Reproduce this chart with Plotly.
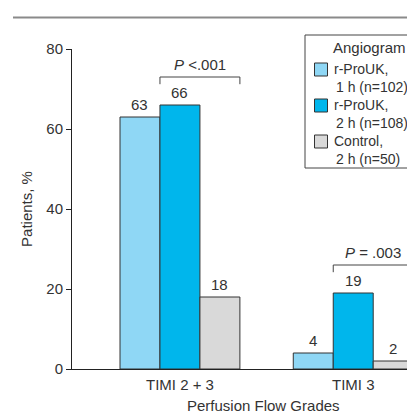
import plotly.graph_objects as go

categories = ["TIMI 2 + 3", "TIMI 3"]
series_line1 = ["r-ProUK,", "r-ProUK,", "Control,"]
series_line2 = ["1 h (n=102)", "2 h (n=108)", "2 h (n=50)"]
series_values = [
    [63, 4],
    [66, 19],
    [18, 2],
]
series_colors = ["#8FD7F5", "#00B6EC", "#D9D9D9"]
legend_title = "Angiogram"
p_labels = ["<i>P</i> <.001", "<i>P</i> = .003"]
y_ticks = [0, 20, 40, 60, 80]

TXT = "#333333"
FONT = "Liberation Sans, Arial, sans-serif"
FS = 15
FSL = 14

# page has an 8px body margin; the figure is sized to fit the window
OFF = 8
W, H = 415 - OFF, 414 - OFF
ML, MR, MT = 72 - OFF, 2, 49 - OFF
MB = H - (369 - OFF)
PW, PH = W - ML - MR, H - MT - MB


def px_x(px):
    return (px - OFF - ML) / PW


def px_y(py):
    return (H - MB - (py - OFF)) / PH


fig = go.Figure()
for i, (vals, col) in enumerate(zip(series_values, series_colors)):
    fig.add_trace(go.Bar(
        x=list(range(len(categories))), y=vals,
        name=series_line1[i] + " " + series_line2[i],
        marker=dict(color=col, line=dict(color="#333333", width=1)),
        showlegend=False,
    ))

bargap = 0.308
nser = len(series_values)
bw = (1 - bargap) / nser

annotations = []
shapes = []
for si, vals in enumerate(series_values):
    off = -(1 - bargap) / 2 + bw * (si + 0.5)
    for ci, v in enumerate(vals):
        annotations.append(dict(x=ci + off, y=v, xref="x", yref="y", text=str(v),
                                showarrow=False, yanchor="bottom", yshift=2,
                                font=dict(size=FS, color=TXT, family=FONT)))

# significance brackets over series 2 and 3
for ci, lab in enumerate(p_labels):
    top = max(series_values[1][ci], series_values[2][ci]) + 7
    x0 = ci - (1 - bargap) / 2 + bw
    x1 = ci + (1 - bargap) / 2
    shapes.append(dict(type="path", xref="x", yref="y",
                       path=f"M {x0},{top-1.8} L {x0},{top} L {x1},{top} L {x1},{top-1.8}",
                       line=dict(color="#444444", width=1)))
    annotations.append(dict(x=(x0 + x1) / 2, y=top, xref="x", yref="y", text=lab,
                            showarrow=False, yanchor="bottom", yshift=2,
                            font=dict(size=FS, color=TXT, family=FONT)))

# top rule
shapes.append(dict(type="line", xref="paper", yref="paper", x0=px_x(13), x1=px_x(416),
                   y0=px_y(17.5), y1=px_y(17.5), line=dict(color="#8A8A8A", width=2)))

# legend (box, title, swatches, labels)
shapes.append(dict(type="rect", xref="paper", yref="paper", x0=px_x(305), x1=px_x(425),
                   y0=px_y(168), y1=px_y(35), line=dict(color="#444444", width=1),
                   fillcolor="white", layer="above"))
annotations.append(dict(x=px_x(369), y=px_y(48), xref="paper", yref="paper", text=legend_title,
                        showarrow=False, xanchor="center", yanchor="middle",
                        font=dict(size=FS, color=TXT, family=FONT)))
for i, col in enumerate(series_colors):
    cy = 69 + 36 * i
    shapes.append(dict(type="rect", xref="paper", yref="paper", x0=px_x(314.5), x1=px_x(327.5),
                       y0=px_y(cy + 7), y1=px_y(cy - 6), fillcolor=col,
                       line=dict(color="#333333", width=1), layer="above"))
    annotations.append(dict(x=px_x(332), y=px_y(cy), xref="paper", yref="paper",
                            text=series_line1[i], showarrow=False, xanchor="left",
                            yanchor="middle", font=dict(size=FSL, color=TXT, family=FONT)))
    annotations.append(dict(x=px_x(334), y=px_y(cy + 18), xref="paper", yref="paper",
                            text=series_line2[i], showarrow=False, xanchor="left",
                            yanchor="middle", font=dict(size=FSL, color=TXT, family=FONT)))

annotations.append(dict(x=0.48, y=px_y(405), xref="x", yref="paper", text="Perfusion Flow Grades",
                        showarrow=False, yanchor="middle",
                        font=dict(size=FS, color=TXT, family=FONT)))

fig.update_layout(
    width=W, height=H,
    margin=dict(l=ML, r=MR, t=MT, b=MB, autoexpand=False),
    paper_bgcolor="white", plot_bgcolor="white",
    barmode="group", bargap=bargap, bargroupgap=0,
    font=dict(family=FONT, size=FS, color=TXT),
    showlegend=False,
    xaxis=dict(range=[-0.623, 1.345], tickvals=list(range(len(categories))), ticktext=categories,
               showline=True, linecolor="#222222", linewidth=1, ticks="", showgrid=False,
               zeroline=False, tickfont=dict(size=FS, color=TXT), automargin=False,
               ticklabelstandoff=2),
    yaxis=dict(range=[0, 80], tickvals=y_ticks, showline=True, linecolor="#222222", linewidth=1,
               ticks="outside", ticklen=5, tickcolor="#222222", showgrid=False, zeroline=False,
               tickfont=dict(size=FS, color=TXT), automargin=False,
               title=dict(text="Patients, %", standoff=10, font=dict(size=FS, color=TXT))),
    annotations=annotations, shapes=shapes,
)

fig.write_html("out.html")
